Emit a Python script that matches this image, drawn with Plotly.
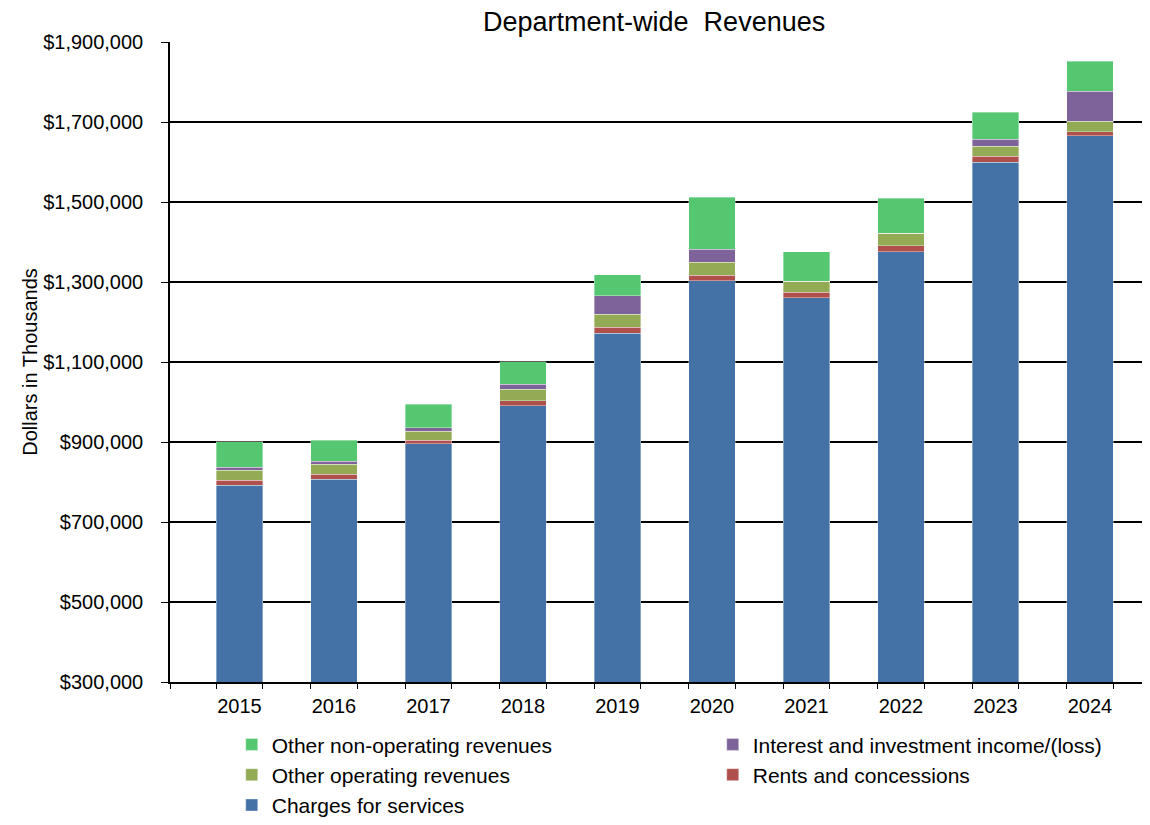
import plotly.graph_objects as go

years = [2015, 2016, 2017, 2018, 2019, 2020, 2021, 2022, 2023, 2024]
charges = [792000, 807000, 896000, 991000, 1172500, 1303000, 1261000, 1376000, 1600000, 1666000]
rents = [13000, 13000, 9000, 12500, 14000, 13500, 13500, 15000, 14000, 10000]
other_op = [25000, 25000, 22500, 29000, 32500, 32500, 27500, 31000, 25000, 26500]
interest = [7500, 7000, 8000, 12500, 46500, 32500, 0, 0, 18500, 74000]
nonop = [63000, 52000, 59000, 56000, 53000, 130000, 73500, 87500, 67500, 76000]

series = [
    ("Charges for services", charges, "#4472A7"),
    ("Rents and concessions", rents, "#B0504D"),
    ("Other operating revenues", other_op, "#93AB55"),
    ("Interest and investment income/(loss)", interest, "#7D639A"),
    ("Other non-operating revenues", nonop, "#55C771"),
]

FONT = "Liberation Sans, Arial, sans-serif"
bar_w = 0.49

fig = go.Figure()
for name, vals, col in series:
    fig.add_trace(go.Bar(
        x=years, y=vals, name=name, width=bar_w,
        marker=dict(color=col, line=dict(color="rgba(255,255,255,0.45)", width=0.8)),
    ))

x_lo = years[0] - 0.735
x_hi = years[-1] + 0.635
edge_ticks = [x_lo] + [v for y in years for v in (y - bar_w / 2, y + bar_w / 2)]

W, H = 1142, 817
fig.update_layout(
    width=W, height=H,
    barmode="stack",
    plot_bgcolor="white", paper_bgcolor="white",
    font=dict(family=FONT, size=20, color="black"),
    margin=dict(l=162, r=0, t=34, b=143, autoexpand=False),
    title=dict(text="Department-wide  Revenues", x=0.494, xanchor="center", xref="paper",
               y=1 - 4 / H, yanchor="top", font=dict(size=27, family=FONT, color="black")),
    showlegend=True,
    legend=dict(
        orientation="h", traceorder="reversed",
        x=0.063, xanchor="left", y=-0.066, yanchor="top",
        entrywidth=436, entrywidthmode="pixels",
        font=dict(size=21, family=FONT, color="black"),
        itemwidth=30,
    ),
    bargap=0.5,
)

fig.update_xaxes(
    range=[x_lo, x_hi],
    tickmode="array", tickvals=years, ticktext=[str(y) for y in years],
    ticks="", showgrid=False, zeroline=False,
    showline=True, linecolor="black", linewidth=1.5,
    tickfont=dict(size=20, family=FONT, color="black"),
    ticklabelstandoff=5,
    minor=dict(tickmode="array", tickvals=edge_ticks, ticks="outside",
               ticklen=5, tickcolor="black", tickwidth=1, showgrid=False),
)

fig.update_yaxes(
    range=[300000, 1900000], dtick=200000, tick0=300000,
    tickprefix="$", tickformat=",d",
    showgrid=True, gridcolor="black", gridwidth=1.5,
    zeroline=False,
    showline=True, linecolor="black", linewidth=1.5,
    ticks="outside", ticklen=7, tickcolor="black", tickwidth=1,
    tickfont=dict(size=20, family=FONT, color="black"),
    ticklabelstandoff=14,
    title=dict(text="Dollars in Thousands", font=dict(size=20, family=FONT, color="black"),
               standoff=0),
)

fig.write_html("out.html")
